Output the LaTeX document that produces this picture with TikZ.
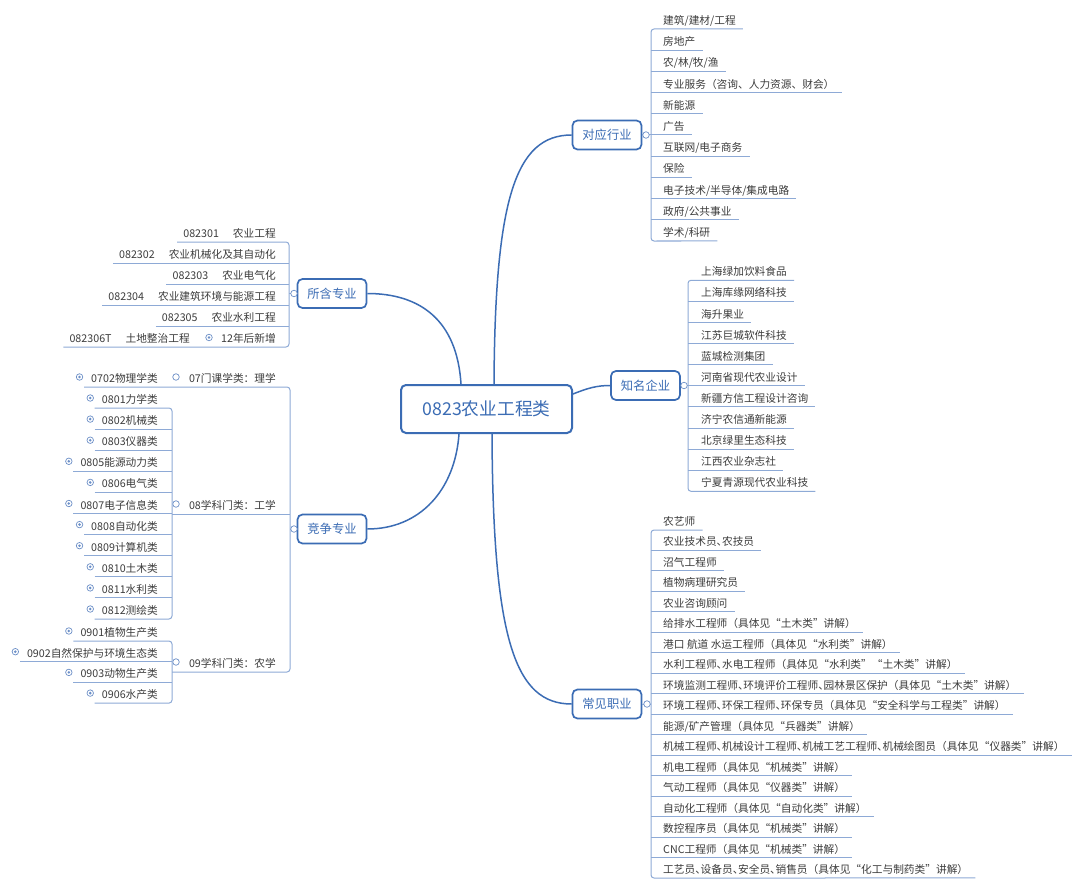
\documentclass[tikz,border=0pt]{standalone}
\usepackage{fontspec}
\setmainfont{Noto Sans CJK SC}
\usetikzlibrary{calc}
\definecolor{boxblue}{HTML}{3B6CB4}
\definecolor{lnblue}{HTML}{8EAAD6}
\definecolor{txt}{HTML}{3C3C3C}
\definecolor{dotblue}{HTML}{6C8FC7}
\newcommand\dunhao{\makebox[0.5em][l]{、}}
\tikzset{
  item/.style={inner sep=0pt, text=txt, font=\fontsize{10.7}{13}\selectfont},
  mainbox/.style={draw=boxblue, fill=white, line width=1.7pt, rounded corners=5pt, text=boxblue,
    font=\fontsize{12.3}{14}\selectfont, minimum width=69pt, minimum height=29pt, inner sep=0pt},
  centerbox/.style={mainbox, minimum width=171pt, minimum height=48pt, line width=2pt,
    font=\fontsize{17.7}{20}\selectfont},
  ln/.style={draw=lnblue, line width=1pt},
  trunk/.style={draw=lnblue, line width=1pt, rounded corners=3pt},
  curve/.style={draw=boxblue, line width=1.5pt},
  openind/.style={circle, draw=dotblue, fill=white, line width=0.7pt, minimum size=6.5pt, inner sep=0pt},
  closedind/.style={openind, path picture={\fill[dotblue] (path picture bounding box.center) circle (1.4pt);}},
}
\begin{document}
\begin{tikzpicture}[x=1pt,y=-1pt]
\fill[white] (0,0) rectangle (1080,888);
\useasboundingbox (0,0) rectangle (1080,888);

% main nodes
\node[centerbox] (c) at (486.5,409) {0823农业工程类};
\node[mainbox] (dy) at (607,135) {对应行业};
\node[mainbox] (zm) at (645.5,385.5) {知名企业};
\node[mainbox] (cj) at (607,704) {常见职业};
\node[mainbox] (sz) at (332,293.5) {所含专业};
\node[mainbox] (jz) at (332,529) {竞争专业};

% curves from center
\draw[curve] ([xshift=94pt]c.north west) .. controls (495,200) and (515,135) .. (dy.west);
\draw[curve] ([xshift=61pt]c.north west) .. controls (457,320) and (420,293.5) .. (sz.east);
\draw[curve] ([xshift=59pt]c.south west) .. controls (455,490) and (420,529) .. (jz.east);
\draw[curve] ([xshift=92pt]c.south west) .. controls (493,640) and (515,704) .. (cj.west);
\draw[curve] ([yshift=15pt]c.east) .. controls (588,388) and (597,385.5) .. (zm.west);

% ---------- 对应行业 ----------
\coordinate (dyj) at (651,135);
\draw[ln] (dy.east) -- (dyj);
\foreach \t [count=\i] in {建筑/建材/工程,房地产,农/林/牧/渔,专业服务（咨询、人力资源、财会）,新能源,广告,互联网/电子商务,保险,电子技术/半导体/集成电路,政府/公共事业,学术/科研}{
  \pgfmathsetmacro\uy{29+(\i-1)*21.2}
  \node[item,anchor=base west] (dy\i) at (663,\uy-4.5) {\t};
  \ifnum\i>1 \ifnum\i<11 \draw[ln] (651,\uy) -- ($(dy\i.base east)+(7,4.5)$); \fi\fi
}
\draw[trunk] ($(dy1.base east)+(7,4.5)$) -- (651,29) -- (651,241) -- ($(dy11.base east)+(7,4.5)$);
\node[openind] (dyo) at (646,135) {};

% ---------- 知名企业 ----------
\coordinate (zmj) at (688,385.5);
\draw[ln] (zm.east) -- (zmj);
\foreach \t [count=\i] in {上海绿加饮料食品,上海库缘网络科技,海升果业,江苏巨城软件科技,蓝城检测集团,河南省现代农业设计,新疆方信工程设计咨询,济宁农信通新能源,北京绿里生态科技,江西农业杂志社,宁夏青源现代农业科技}{
  \pgfmathsetmacro\uy{280.3+(\i-1)*21.1}
  \node[item,anchor=base west] (zm\i) at (701,\uy-4.5) {\t};
  \ifnum\i>1 \ifnum\i<11 \draw[ln] (688,\uy) -- ($(zm\i.base east)+(7,4.5)$); \fi\fi
}
\draw[trunk] ($(zm1.base east)+(7,4.5)$) -- (688,280.3) -- (688,491.3) -- ($(zm11.base east)+(7,4.5)$);
\node[openind] (zmo) at (684,385.5) {};

% ---------- 常见职业 ----------
\coordinate (cjj) at (651,704);
\draw[ln] (cj.east) -- (cjj);
\foreach \t [count=\i] in {农艺师,农业技术员\dunhao 农技员,沼气工程师,植物病理研究员,农业咨询顾问,给排水工程师（具体见“土木类”讲解）,港口 航道 水运工程师（具体见“水利类”讲解）,水利工程师\dunhao 水电工程师（具体见“水利类”“土木类”讲解）,环境监测工程师\dunhao 环境评价工程师\dunhao 园林景区保护（具体见“土木类”讲解）,环境工程师\dunhao 环保工程师\dunhao 环保专员（具体见“安全科学与工程类”讲解）,能源/矿产管理（具体见“兵器类”讲解）,机械工程师\dunhao 机械设计工程师\dunhao 机械工艺工程师\dunhao 机械绘图员（具体见“仪器类”讲解）,机电工程师（具体见“机械类”讲解）,气动工程师（具体见“仪器类”讲解）,自动化工程师（具体见“自动化类”讲解）,数控程序员（具体见“机械类”讲解）,CNC工程师（具体见“机械类”讲解）,工艺员\dunhao 设备员\dunhao 安全员\dunhao 销售员（具体见“化工与制药类”讲解）}{
  \pgfmathsetmacro\uy{530+(\i-1)*20.47}
  \node[item,anchor=base west] (cj\i) at (663,\uy-4.5) {\t};
  \ifnum\i>1 \ifnum\i<18 \draw[ln] (651,\uy) -- ($(cj\i.base east)+(7,4.5)$); \fi\fi
}
\draw[trunk] ($(cj1.base east)+(7,4.5)$) -- (651,530) -- (651,878) -- ($(cj18.base east)+(7,4.5)$);
\node[openind] (cjo) at (647,704) {};

% ---------- 所含专业 ----------
\coordinate (szj) at (289,293.5);
\draw[ln] (sz.west) -- (szj);
\foreach \t [count=\i] in {082301\hspace{14pt}农业工程,082302\hspace{14pt}农业机械化及其自动化,082303\hspace{14pt}农业电气化,082304\hspace{14pt}农业建筑环境与能源工程,082305\hspace{14pt}农业水利工程}{
  \pgfmathsetmacro\uy{242+(\i-1)*21}
  \node[item,anchor=base east] (sz\i) at (276,\uy-4.5) {\t};
  \ifnum\i>1 \draw[ln] ($(sz\i.base west)+(-6,4.5)$) -- (289,\uy); \fi
}
\node[item,anchor=base east] (sz6) at (276,342.5) {12年后新增};
\node[closedind] (sz6o) at (209,337.5) {};
\node[item,anchor=base east] (sz6b) at (190,342.5) {082306T\hspace{14pt}土地整治工程};
\draw[trunk] ($(sz1.base west)+(-6,4.5)$) -- (289,242) -- (289,347) -- ($(sz6b.base west)+(-6,4.5)$);
\node[openind] (szo) at (294,293.5) {};

% ---------- 竞争专业 ----------
\coordinate (jzj) at (290,529);
\draw[ln] (jz.west) -- (jzj);
\node[item,anchor=base east] (l07) at (276,382.5) {07门课学类：理学};
\node[item,anchor=base east] (l08) at (276,509.5) {08学科门类：工学};
\node[item,anchor=base east] (l09) at (276,667.5) {09学科门类：农学};
\node[item,anchor=base east] (l0702) at (158,382.5) {0702物理学类};
\node[closedind] (l0702o) at ($(l0702.base west)+(-11.5,-5.5)$) {};
\draw[trunk] ($(l0702.base west)+(-7,4.5)$) -- (290,387) -- (290,672) -- (172,672);
\draw[ln] (172,514) -- (290,514);
\node[openind] (l07o) at (176,377) {};
\node[openind] (l08o) at (176,504) {};
\node[openind] (l09o) at (176,662) {};
\node[openind] (jzo) at (294,529) {};

\foreach \t [count=\i] in {0801力学类,0802机械类,0803仪器类,0805能源动力类,0806电气类,0807电子信息类,0808自动化类,0809计算机类,0810土木类,0811水利类,0812测绘类}{
  \pgfmathsetmacro\uy{408+(\i-1)*21.1}
  \node[item,anchor=base east] (e\i) at (158,\uy-4.5) {\t};
  \node[closedind] (e\i o) at ($(e\i.base west)+(-11.5,-5.5)$) {};
  \ifnum\i>1 \ifnum\i<11 \draw[ln] ($(e\i.base west)+(-7,4.5)$) -- (172,\uy); \fi\fi
}
\draw[trunk] ($(e1.base west)+(-7,4.5)$) -- (172,408) -- (172,619) -- ($(e11.base west)+(-7,4.5)$);

\foreach \t [count=\i] in {0901植物生产类,0902自然保护与环境生态类,0903动物生产类,0906水产类}{
  \pgfmathsetmacro\uy{641+(\i-1)*20.7}
  \node[item,anchor=base east] (n\i) at (158,\uy-4.5) {\t};
  \node[closedind] (n\i o) at ($(n\i.base west)+(-11.5,-5.5)$) {};
  \ifnum\i>1 \ifnum\i<4 \draw[ln] ($(n\i.base west)+(-7,4.5)$) -- (172,\uy); \fi\fi
}
\draw[trunk] ($(n1.base west)+(-7,4.5)$) -- (172,641) -- (172,703.1) -- ($(n4.base west)+(-7,4.5)$);
\end{tikzpicture}
\end{document}
